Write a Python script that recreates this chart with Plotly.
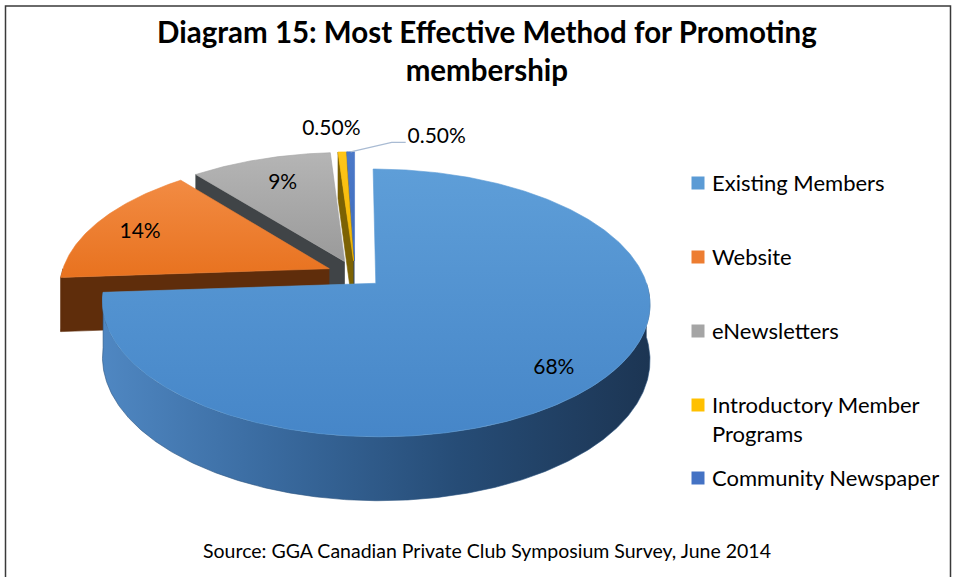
import numpy as np
import plotly.graph_objects as go

# ---------------- data ----------------
categories = ["Existing Members", "Website", "eNewsletters",
              "Introductory Member Programs", "Community Newspaper"]
legend_text = ["Existing Members", "Website", "eNewsletters",
               "Introductory Member<br>Programs", "Community Newspaper"]
shares = [68, 14, 9, 0.5, 0.5]
share_labels = ["68%", "14%", "9%", "0.50%", "0.50%"]

title_text = "Diagram 15: Most Effective Method for Promoting<br>membership"
source_text = "Source: GGA Canadian Private Club Symposium Survey, June 2014"

# ---------------- styling ----------------
FONT = "Lato, 'Open Sans', sans-serif"
W, H = 954, 577
swatch_colors = ["#5b9bd5", "#ed7d31", "#a5a5a5", "#ffc000", "#4472c4"]
top_shades = [("#5e9ed8", "#4686c8"), ("#f28b43", "#e8721f"),
              ("#b5b5b5", "#9a9a9a"), ("#ffc61a", "#f0b400"),
              ("#4b79c9", "#3e6aba")]
wall_colors = ["#2d5886", "#5f2d0b", "#404447", "#7c6203", "#26406e"]
curved_wall_scale = [[0, "#4f87c2"], [0.3, "#3a6ba0"], [0.65, "#264c76"], [1, "#1c3553"]]

# label placement on the pie: radius factor and angular nudge (degrees)
label_radius = [0.84, 0.80, 0.73, 1.24, 1.21]
label_nudge = [2.0, -2.0, 0.5, -1.7, 18.4]
label_leader = [False, False, False, False, True]

# tilted-pie projection (page pixel space)
CX, CY = 355.0, 274.0
RX, RY = 268.0, 128.3
PERSP = 0.145
DEPTH = 54.0
EXPLODE = 0.105


def project(u, v, drop=0.0):
    u = np.asarray(u, float)
    v = np.asarray(v, float)
    f = 1.0 / (1.0 - PERSP * v)
    return CX + RX * u * f, CY + RY * v * f + drop * DEPTH * f


def ground(theta_deg, r=1.0):
    t = np.radians(theta_deg)
    return r * np.sin(t), -r * np.cos(t)


def poly(fig, xs, ys, color=None, gradient=None, edge=None):
    kw = dict(x=list(xs), y=list(ys), mode="lines", fill="toself",
              line=dict(width=0.6, color=edge or color),
              hoverinfo="skip", showlegend=False)
    if gradient is not None:
        kw["fillgradient"] = gradient
    else:
        kw["fillcolor"] = color
    fig.add_trace(go.Scatter(**kw))


total = float(sum(shares))
ends = np.cumsum(shares) / total * 360.0
starts = ends - np.asarray(shares) / total * 360.0
mids = (starts + ends) / 2.0

fig = go.Figure()

# far slices first, nearest last
order = sorted(range(len(shares)), key=lambda i: -np.cos(np.radians(mids[i])))
for i in order:
    a0, a1, m = starts[i], ends[i], mids[i]
    ou, ov = ground(m, EXPLODE)

    # flat cut faces that face the viewer
    for theta, visible in ((a0, np.sin(np.radians(a0)) < -1e-9),
                           (a1, np.sin(np.radians(a1)) > 1e-9)):
        if not visible:
            continue
        eu, ev = ground(theta)
        eu, ev = eu + ou, ev + ov
        tx, ty = project([ou, eu], [ov, ev])
        bx, by = project([ou, eu], [ov, ev], 1.0)
        poly(fig, [tx[0], tx[1], bx[1], bx[0]], [ty[0], ty[1], by[1], by[0]],
             color=wall_colors[i])

    # rounded outer wall on the front half
    lo, hi = max(a0, 90.0), min(a1, 270.0)
    if hi > lo:
        th = np.linspace(lo, hi, int((hi - lo) * 2) + 2)
        ru, rv = ground(th)
        tx, ty = project(ru + ou, rv + ov)
        bx, by = project(ru + ou, rv + ov, 1.0)
        if i == 0:
            poly(fig, np.r_[tx, bx[::-1]], np.r_[ty, by[::-1]],
                 gradient=dict(type="horizontal", colorscale=curved_wall_scale),
                 edge="#2b5480")
        else:
            poly(fig, np.r_[tx, bx[::-1]], np.r_[ty, by[::-1]], color=wall_colors[i])

    # top face (lighter towards the back edge)
    th = np.linspace(a0, a1, max(3, int((a1 - a0) * 2) + 2))
    ru, rv = ground(th)
    fx, fy = project(np.r_[ou, ru + ou, ou], np.r_[ov, rv + ov, ov])
    c_back, c_front = top_shades[i]
    poly(fig, fx, fy,
         gradient=dict(type="vertical", colorscale=[[0, c_front], [1, c_back]]),
         edge=swatch_colors[i])

# value labels
lx, ly = [], []
for i in range(len(shares)):
    ou, ov = ground(mids[i], EXPLODE)
    gu, gv = ground(mids[i] + label_nudge[i], label_radius[i])
    x, y = project(gu + ou, gv + ov)
    lx.append(float(x))
    ly.append(float(y))
    if label_leader[i]:
        su, sv = ground(mids[i])
        sx, sy = project(su + ou, sv + ov)
        end_x = x - 31
        end_y = y + 5
        fig.add_trace(go.Scatter(
            x=[float(sx), end_x - 14, end_x], y=[float(sy), end_y, end_y],
            mode="lines", line=dict(color="#a9bbd3", width=1.2),
            hoverinfo="skip", showlegend=False))

fig.add_trace(go.Scatter(
    x=lx, y=ly, mode="text", text=share_labels,
    textfont=dict(family=FONT, size=21, color="#000000"),
    hoverinfo="skip", showlegend=False))

# legend column
LEG_X, LEG_TEXT_X = 698, 710
LEG_Y = [183, 257, 331, 405, 478]
fig.add_trace(go.Scatter(
    x=[LEG_X] * len(categories), y=LEG_Y, mode="markers",
    marker=dict(symbol="square", size=13, color=swatch_colors, line=dict(width=0)),
    hoverinfo="skip", showlegend=False))
for yv, txt in zip(LEG_Y, legend_text):
    fig.add_annotation(x=LEG_TEXT_X, y=yv - 16, xref="x", yref="y",
                       text=txt, showarrow=False, xanchor="left", yanchor="top",
                       align="left",
                       font=dict(family=FONT, size=22, color="#000000"))

# chart title and source line
fig.add_annotation(x=487, y=50, xref="x", yref="y", text=title_text,
                   showarrow=False, xanchor="center", yanchor="middle",
                   font=dict(family=FONT, size=29.5, color="#000000", weight="bold"))
fig.add_annotation(x=487, y=550, xref="x", yref="y", text=source_text,
                   showarrow=False, xanchor="center", yanchor="middle",
                   font=dict(family=FONT, size=19.5, color="#000000"))

fig.update_layout(
    width=W, height=H, autosize=False,
    margin=dict(l=0, r=0, t=0, b=0),
    paper_bgcolor="white", plot_bgcolor="white",
    xaxis=dict(range=[0, W], visible=False, fixedrange=True),
    yaxis=dict(range=[H, 0], visible=False, fixedrange=True),
    shapes=[dict(type="rect", xref="x", yref="y", x0=5.5, y0=6, x1=950.5, y1=H + 20,
                 line=dict(color="#3a3a3a", width=1.5), fillcolor="rgba(0,0,0,0)",
                 layer="above")],
)

fig.write_html("out.html")
